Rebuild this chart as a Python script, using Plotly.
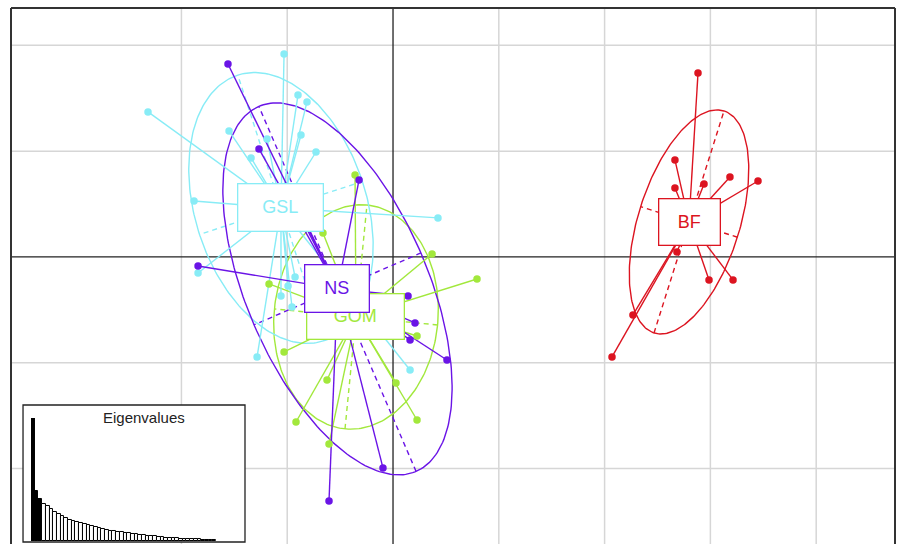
import numpy as np
import plotly.graph_objects as go

# ---- data -------------------------------------------------------------
groups = ["BF", "GOM", "GSL", "NS"]

# individual scores on the two first axes, per population
bf_x = [2.883, 2.665, 3.185, 3.450, 2.940, 2.665, 2.684, 2.987, 3.214, 2.268, 2.070]
bf_y = [1.739, 0.917, 0.756, 0.718, 0.690, 0.652, 0.047, -0.217, -0.217, -0.548, -0.945]

gom_x = [-0.359, -0.662, 0.369, 0.794, -1.172, 0.227, -1.030, -0.624, 0.028, -0.917, 0.227, -0.605]
gom_y = [0.775, 0.227, 0.028, -0.208, -0.255, -0.747, -0.898, -1.163, -1.191, -1.560, -1.541, -1.767]

gsl_x = [-1.030, -2.316, -0.898, -0.813, -1.550, -0.870, -1.342, -0.728, -1.191, -1.881,
         0.425, -1.843, -0.926, -0.992, -1.059, -0.955, -1.285, 0.161]
gsl_y = [1.919, 1.371, 1.531, 1.465, 1.191, 1.153, 0.936, 0.992, 1.115, 0.529,
         0.369, -0.151, -0.189, -0.274, -0.369, -0.473, -0.945, -1.068]

ns_x = [-1.560, -1.267, -0.974, -0.879, -0.321, -1.843, 0.142, 0.208, 0.161, 0.510, -0.095, -0.605]
ns_y = [1.824, 1.021, 0.577, 0.444, 0.728, -0.085, -0.369, -0.624, -0.784, -0.974, -1.994, -2.306]

# population centroids
center_x = [2.798, -0.350, -1.059, -0.525]
center_y = [0.331, -0.567, 0.463, -0.302]

# inertia ellipses: semi-axes and orientation of the major axis (degrees)
ellipse_a = [1.100, 1.063, 1.320, 1.878]
ellipse_b = [0.480, 0.775, 0.810, 0.859]
ellipse_angle = [72.5, 84.4, 108.0, 113.3]

# eigenvalues of the analysis (inset barplot)
eigenvalues = [123, 50, 42, 37, 35, 32, 29, 27, 25, 23,
               21, 20, 19, 18.5, 17.5, 16.5, 15, 14, 13, 12,
               11, 10, 9.7, 9.3, 8.8, 8.3, 7.7, 7, 6.7, 6.3,
               5.8, 5.4, 5, 4.6, 4.2, 3.8, 3.5, 3.1, 2.9, 2.7,
               2.5, 2.3, 2.1, 2.0, 1.8, 1.6, 1.4, 1.2, 1.1, 1.0]
n_axes_kept = 3

grid_x = [-2, -1, 1, 2, 3, 4]
grid_y = [-2, -1, 1, 2]

# ---- styles -----------------------------------------------------------
colors = ["#DC1420", "#A2E83C", "#88ECF6", "#6A14E6"]
label_box = {"BF": (60, 45), "GOM": (96, 44), "GSL": (84, 46), "NS": (63, 46)}
FONT = "Liberation Sans, Arial, sans-serif"
X_RANGE = [-3.611, 4.745]
Y_RANGE = [-2.713, 2.353]

points_x = [bf_x, gom_x, gsl_x, ns_x]
points_y = [bf_y, gom_y, gsl_y, ns_y]

fig = go.Figure()

# ellipses with their (dashed) principal axes
t = np.linspace(0, 2 * np.pi, 240)
for g, col in enumerate(colors):
    cx, cy = center_x[g], center_y[g]
    a, b = ellipse_a[g], ellipse_b[g]
    th = np.deg2rad(ellipse_angle[g])
    ux, uy = np.cos(th), np.sin(th)
    vx, vy = -np.sin(th), np.cos(th)
    ex = cx + a * np.cos(t) * ux + b * np.sin(t) * vx
    ey = cy + a * np.cos(t) * uy + b * np.sin(t) * vy
    fig.add_trace(go.Scatter(x=ex, y=ey, mode="lines",
                             line=dict(color=col, width=1.4), hoverinfo="skip"))
    ax_x = [cx - a * ux, cx + a * ux, None, cx - b * vx, cx + b * vx]
    ax_y = [cy - a * uy, cy + a * uy, None, cy - b * vy, cy + b * vy]
    fig.add_trace(go.Scatter(x=ax_x, y=ax_y, mode="lines",
                             line=dict(color=col, width=1.4, dash="5px,4px"),
                             hoverinfo="skip"))

# stars from each centroid to its individuals
for g, col in enumerate(colors):
    sx, sy = [], []
    for px, py in zip(points_x[g], points_y[g]):
        sx += [center_x[g], px, None]
        sy += [center_y[g], py, None]
    fig.add_trace(go.Scatter(x=sx, y=sy, mode="lines",
                             line=dict(color=col, width=1.4), hoverinfo="skip"))

# individuals
for g, col in enumerate(colors):
    fig.add_trace(go.Scatter(x=points_x[g], y=points_y[g], mode="markers",
                             marker=dict(color=col, size=7.5, line=dict(width=0)),
                             hoverinfo="skip"))

# eigenvalue inset
bar_colors = ["black" if i < n_axes_kept else "white" for i in range(len(eigenvalues))]
fig.add_trace(go.Bar(x=list(range(1, len(eigenvalues) + 1)), y=eigenvalues,
                     marker=dict(color=bar_colors, line=dict(color="black", width=1)),
                     width=1.0, xaxis="x2", yaxis="y2", hoverinfo="skip"))

shapes = []
for gx in grid_x:
    shapes.append(dict(type="line", xref="x", yref="paper", x0=gx, x1=gx, y0=0, y1=1,
                       line=dict(color="#d6d6d6", width=1.5), layer="below"))
for gy in grid_y:
    shapes.append(dict(type="line", xref="paper", yref="y", x0=0, x1=1, y0=gy, y1=gy,
                       line=dict(color="#d6d6d6", width=1.5), layer="below"))
# origin axes
shapes.append(dict(type="line", xref="x", yref="paper", x0=0, x1=0, y0=0, y1=1,
                   line=dict(color="#222222", width=1.3), layer="below"))
shapes.append(dict(type="line", xref="paper", yref="y", x0=0, x1=1, y0=0, y1=0,
                   line=dict(color="#222222", width=1.3), layer="below"))
# frame (left, top, right)
for x0, y0, x1, y1 in [(0, 0, 0, 1), (0, 1, 1, 1), (1, 0, 1, 1)]:
    shapes.append(dict(type="line", xref="paper", yref="paper", x0=x0, y0=y0, x1=x1, y1=y1,
                       line=dict(color="#333333", width=2), layer="above"))
# inset box
shapes.append(dict(type="rect", xref="paper", yref="paper",
                   x0=0.0136, x1=0.2647, y0=0.0037, y1=0.2593,
                   fillcolor="white", line=dict(color="#222222", width=1.3), layer="below"))

annotations = []
for g, name in enumerate(groups):
    w, h = label_box[name]
    annotations.append(dict(x=center_x[g], y=center_y[g], xref="x", yref="y",
                            xanchor="center", yanchor="middle",
                            text=name, showarrow=False, width=w, height=h,
                            bgcolor="white", bordercolor=colors[g], borderwidth=1.3,
                            borderpad=0, font=dict(family=FONT, size=18, color=colors[g]),
                            align="center", valign="middle"))
annotations.append(dict(x=0.1505, y=0.2351, xref="paper", yref="paper", text="Eigenvalues",
                        xanchor="center", yanchor="middle", showarrow=False,
                        font=dict(family=FONT, size=15, color="#222222")))

fig.update_layout(
    width=897, height=544,
    margin=dict(l=11, r=2, t=8, b=0),
    paper_bgcolor="white", plot_bgcolor="white",
    showlegend=False, hovermode=False,
    xaxis=dict(range=X_RANGE, showgrid=False, zeroline=False, showticklabels=False,
               showline=False, ticks="", fixedrange=True),
    yaxis=dict(range=Y_RANGE, showgrid=False, zeroline=False, showticklabels=False,
               showline=False, ticks="", fixedrange=True),
    xaxis2=dict(domain=[0.0226, 0.2319], range=[0.5, len(eigenvalues) + 0.5], anchor="y2",
                showgrid=False, zeroline=False, showticklabels=False, ticks="", showline=False),
    yaxis2=dict(domain=[0.0056, 0.2351], range=[0, max(eigenvalues)], anchor="x2",
                showgrid=False, zeroline=False, showticklabels=False, ticks="", showline=False),
    bargap=0,
    shapes=shapes,
    annotations=annotations,
)

fig.write_html("out.html")
